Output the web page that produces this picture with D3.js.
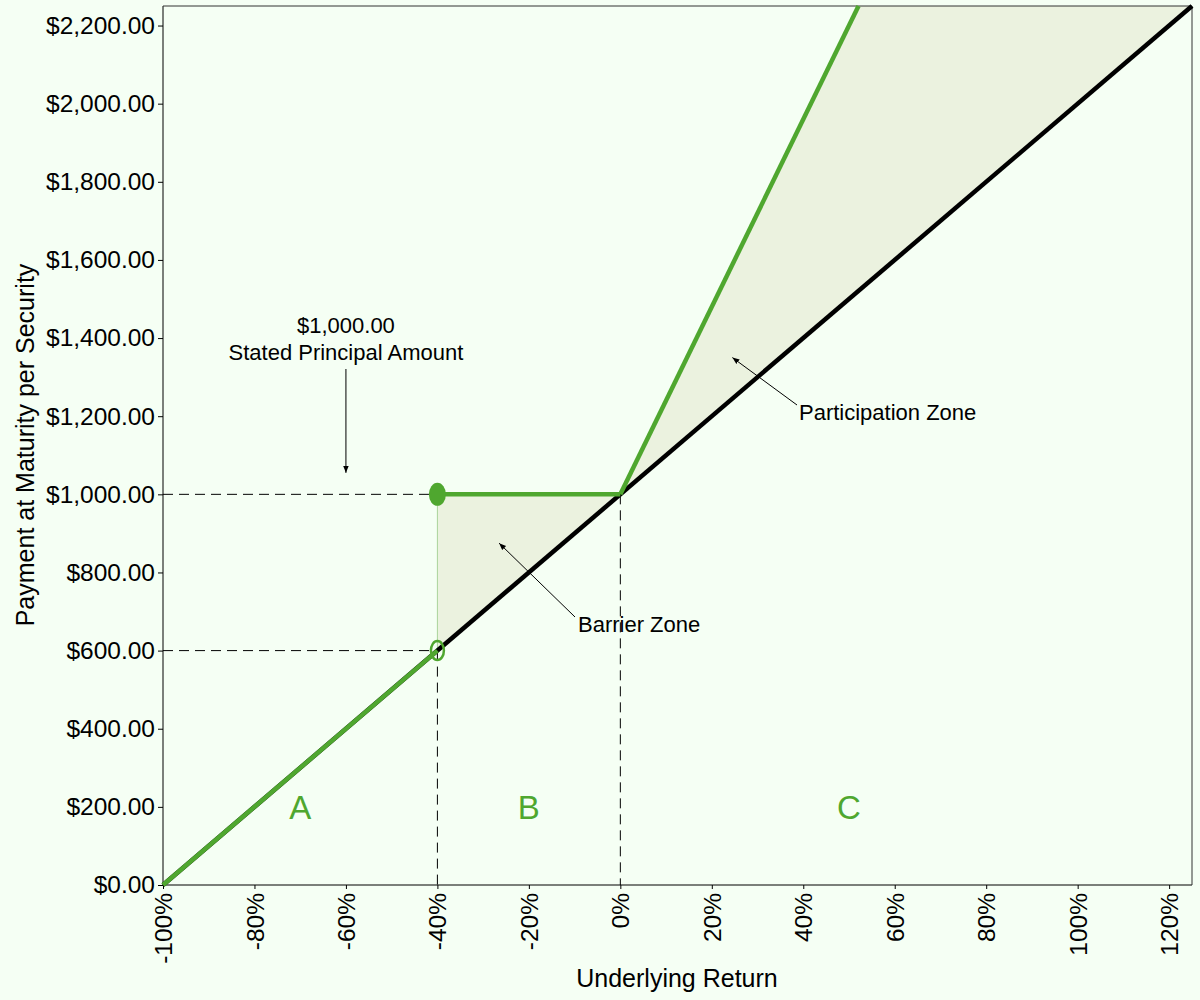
<!DOCTYPE html>
<html>
<head>
    <meta charset="UTF-8">
    <title>Payment at Maturity</title>
    <script src="https://d3js.org/d3.v7.min.js"></script>
    <style>
        body { margin: 0; background: #f5fff4; }
        text { font-family: "Liberation Sans", Arial, sans-serif; }
    </style>
</head>
<body>
<div id="chart"></div>
<script>
    // underlying return (%) and payment ($) values
    var underlyingReturn = [-100, 125];
    var underlyingPay = [0, 2250];

    var lowReturn = [-100, -40];
    var lowPay = [0, 600];
    var flatReturn = [-40, 0];
    var flatPay = [1000, 1000];
    var upReturn = [0, 52.08];
    var upPay = [1000, 2250];

    var barrierReturn = -40;
    var barrierPay = 600;
    var principal = 1000;

    var xTicks = [-100, -80, -60, -40, -20, 0, 20, 40, 60, 80, 100, 120];
    var yTicks = [0, 200, 400, 600, 800, 1000, 1200, 1400, 1600, 1800, 2000, 2200];

    var zoneLetters = ["A", "B", "C"];
    var zoneLetterX = [-70, -20, 50];

    var width = 1200, height = 1000;
    var plotLeft = 163, plotRight = 1192, plotTop = 6, plotBottom = 885;

    var green = "#4fa72f";
    var shade = "#ebf2df";

    var x = d3.scaleLinear().domain([-100, 125]).range([plotLeft, plotRight]);
    var y = d3.scaleLinear().domain([0, 2250]).range([plotBottom, plotTop]);

    var svg = d3.select("#chart").append("svg")
        .attr("width", width)
        .attr("height", height);

    svg.append("rect")
        .attr("width", width).attr("height", height)
        .attr("fill", "#f5fff4");

    // arrow head
    svg.append("defs").append("marker")
        .attr("id", "arrow")
        .attr("viewBox", "0 0 10 10")
        .attr("refX", 10).attr("refY", 5)
        .attr("markerWidth", 7).attr("markerHeight", 7)
        .attr("orient", "auto")
        .append("path")
        .attr("d", "M0,1 L10,5 L0,9 Z")
        .attr("fill", "black");

    // shaded zones
    var barrierZone = [[flatReturn[0], barrierPay], [flatReturn[0], flatPay[0]], [flatReturn[1], flatPay[1]]];
    var partZone = [[upReturn[0], upPay[0]], [upReturn[1], upPay[1]], [underlyingReturn[1], underlyingPay[1]]];
    var area = d3.line().x(function(d) { return x(d[0]); }).y(function(d) { return y(d[1]); });

    svg.append("path").attr("d", area(barrierZone) + "Z").attr("fill", shade);
    svg.append("path").attr("d", area(partZone) + "Z").attr("fill", shade);

    // thin edge on barrier zone
    svg.append("line")
        .attr("x1", x(barrierReturn)).attr("x2", x(barrierReturn))
        .attr("y1", y(barrierPay)).attr("y2", y(principal))
        .attr("stroke", "#a9d39a").attr("stroke-width", 1);

    // dashed guide lines
    var dashes = [
        [[-100, principal], [barrierReturn, principal]],
        [[-100, barrierPay], [barrierReturn, barrierPay]],
        [[barrierReturn, barrierPay], [barrierReturn, 0]],
        [[0, principal], [0, 0]]
    ];
    svg.selectAll(".dash").data(dashes).enter().append("path")
        .attr("class", "dash")
        .attr("d", area)
        .attr("stroke", "black")
        .attr("stroke-width", 1)
        .attr("stroke-dasharray", "10,6")
        .attr("fill", "none");

    // axes
    var yAxis = d3.axisLeft(y).tickValues(yTicks).tickSize(5)
        .tickFormat(function(d) { return "$" + d3.format(",.2f")(d); });
    var gy = svg.append("g").attr("transform", "translate(" + plotLeft + ",0)").call(yAxis);
    gy.select(".domain").attr("d", "M0," + plotBottom + "V" + plotTop);
    gy.selectAll("text").attr("font-size", 24.5).attr("x", -8).attr("fill", "black")
        .style("font-family", "Liberation Sans, Arial, sans-serif");

    var xAxis = d3.axisBottom(x).tickValues(xTicks).tickSize(4)
        .tickFormat(function(d) { return d + "%"; });
    var gx = svg.append("g").attr("transform", "translate(0," + plotBottom + ")").call(xAxis);
    gx.select(".domain").attr("d", "M" + plotLeft + ",0H" + plotRight);
    gx.selectAll("text")
        .attr("font-size", 24.5)
        .attr("fill", "black")
        .attr("transform", "rotate(-90)")
        .attr("text-anchor", "end")
        .attr("x", -8).attr("y", 0)
        .attr("dy", "0.35em")
        .style("font-family", "Liberation Sans, Arial, sans-serif");

    // top and right frame
    svg.append("path")
        .attr("d", "M" + plotLeft + "," + plotTop + "H" + plotRight + "V" + plotBottom)
        .attr("stroke", "#333").attr("stroke-width", 1).attr("fill", "none");

    // underlying line
    svg.append("path")
        .attr("d", area(d3.zip(underlyingReturn, underlyingPay)))
        .attr("stroke", "black").attr("stroke-width", 4.5).attr("fill", "none");

    // security payoff
    [d3.zip(lowReturn, lowPay), d3.zip(flatReturn, flatPay), d3.zip(upReturn, upPay)].forEach(function(seg) {
        svg.append("path")
            .attr("d", area(seg))
            .attr("stroke", green).attr("stroke-width", 4.5).attr("fill", "none");
    });

    // barrier markers
    svg.append("ellipse")
        .attr("cx", x(barrierReturn)).attr("cy", y(principal))
        .attr("rx", 8.5).attr("ry", 11.5).attr("fill", green);
    svg.append("ellipse")
        .attr("cx", x(barrierReturn)).attr("cy", y(barrierPay))
        .attr("rx", 6.5).attr("ry", 9.5)
        .attr("fill", "none").attr("stroke", green).attr("stroke-width", 2.5);

    // zone letters
    svg.selectAll(".zone").data(zoneLetters).enter().append("text")
        .attr("class", "zone")
        .attr("x", function(d, i) { return x(zoneLetterX[i]); })
        .attr("y", y(200) + 12)
        .attr("text-anchor", "middle")
        .attr("font-size", 33)
        .attr("fill", green)
        .text(function(d) { return d; });

    // annotations
    function note(lines, tx, ty, anchor, from, to) {
        var t = svg.append("text")
            .attr("x", tx).attr("y", ty)
            .attr("text-anchor", anchor)
            .attr("font-size", 22);
        lines.forEach(function(s, i) {
            t.append("tspan").attr("x", tx).attr("dy", i === 0 ? 0 : 27).text(s);
        });
        svg.append("line")
            .attr("x1", from[0]).attr("y1", from[1])
            .attr("x2", to[0]).attr("y2", to[1])
            .attr("stroke", "black").attr("stroke-width", 1)
            .attr("marker-end", "url(#arrow)");
    }

    note(["$1,000.00", "Stated Principal Amount"], x(-60), 333, "middle",
        [x(-60), 369], [x(-60), y(1055)]);
    note(["Participation Zone"], 799, 420, "start",
        [797, 405], [x(24.5), y(1350)]);
    note(["Barrier Zone"], 578, 632, "start",
        [575, 617], [x(-26.5), y(875)]);

    // axis titles
    svg.append("text")
        .attr("x", 677).attr("y", 987)
        .attr("text-anchor", "middle")
        .attr("font-size", 25)
        .text("Underlying Return");

    svg.append("text")
        .attr("transform", "translate(34,445) rotate(-90)")
        .attr("text-anchor", "middle")
        .attr("font-size", 25)
        .text("Payment at Maturity per Security");
</script>
</body>
</html>
